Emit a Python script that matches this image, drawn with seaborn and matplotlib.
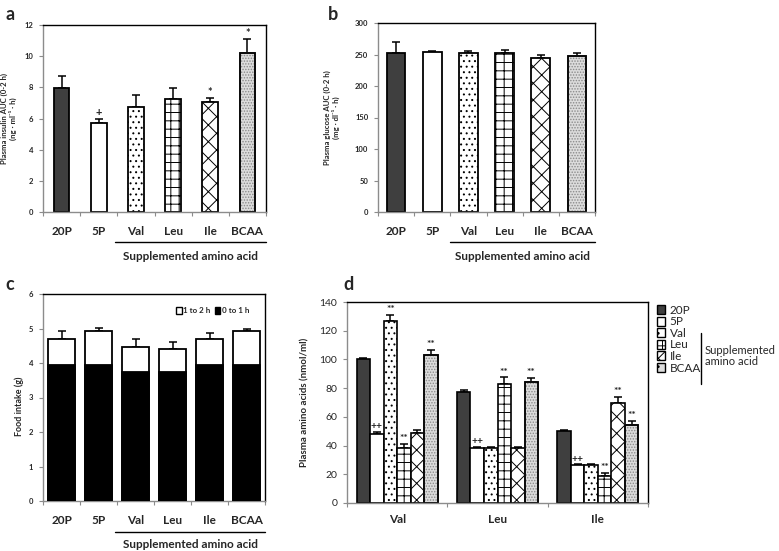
import matplotlib
matplotlib.use("Agg")
import matplotlib.pyplot as plt
import matplotlib.transforms as mtransforms
from matplotlib.lines import Line2D
from matplotlib.patches import Patch, Rectangle
import seaborn as sns
import pandas as pd
import numpy as np

# ---------------- data ----------------
groups = ["20P", "5P", "Val", "Leu", "Ile", "BCAA"]

insulin_mean = [7.97, 5.68, 6.75, 7.24, 7.03, 10.18]
insulin_sem = [0.75, 0.28, 0.79, 0.73, 0.26, 0.90]
insulin_marks = ["", "+", "", "", "*", "*"]

glucose_mean = [252, 254, 252, 253, 245, 248]
glucose_sem = [18, 1, 3, 4, 4, 5]

food_0_1 = [3.93, 3.93, 3.75, 3.75, 3.93, 3.93]
food_total = [4.71, 4.93, 4.47, 4.40, 4.71, 4.93]
food_sem = [0.22, 0.08, 0.24, 0.22, 0.17, 0.07]

aa_names = ["Val", "Leu", "Ile"]
aa_20P = [100, 77, 50]
aa_5P = [48, 38.5, 26.4]
aa_Val = [127, 38.5, 26.4]
aa_Leu = [38, 83, 19]
aa_Ile = [49, 38.5, 70]
aa_BCAA = [103, 84, 54.5]
aa_sem_20P = [1, 1.7, 0.7]
aa_sem_5P = [1.5, 0.6, 0.5]
aa_sem_Val = [4, 0.6, 0.6]
aa_sem_Leu = [3, 4.5, 2]
aa_sem_Ile = [2, 0.6, 4]
aa_sem_BCAA = [3.5, 3, 2.5]
aa_marks_20P = ["", "", ""]
aa_marks_5P = ["++", "++", "++"]
aa_marks_Val = ["**", "", ""]
aa_marks_Leu = ["**", "**", "**"]
aa_marks_Ile = ["", "", "**"]
aa_marks_BCAA = ["**", "**", "**"]

# ---------------- style ----------------
sns.set_theme(style="white")
plt.rcParams["font.family"] = ["Lato", "DejaVu Sans"]
plt.rcParams["hatch.linewidth"] = 0.7

fills = {"20P": "#3f3f3f", "5P": "white", "Val": "white", "Leu": "white",
         "Ile": "white", "BCAA": "#dcdcdc"}
hatches = {"20P": "", "5P": "", "Val": "...", "Leu": "++", "Ile": "xx", "BCAA": "......"}

W, H = 779, 551
fig = plt.figure(figsize=(W / 100, H / 100), dpi=100)


def add_ax(x0, y0, x1, y1):
    return fig.add_axes([x0 / W, 1 - y1 / H, (x1 - x0) / W, (y1 - y0) / H])


def style_patch(ax, p, name):
    p.set_facecolor(fills[name])
    p.set_linewidth(1.3)
    if name == "BCAA":
        p.set_edgecolor("#8a8a8a")
        p.set_hatch(hatches[name])
        ax.add_patch(Rectangle((p.get_x(), p.get_y()), p.get_width(), p.get_height(),
                               fill=False, edgecolor="black", linewidth=1.3,
                               zorder=p.get_zorder() + 0.1))
    else:
        p.set_edgecolor("black")
        p.set_hatch(hatches[name])


def frame(ax, ytick_size=5.5, ybold=True):
    for s in ["top", "right"]:
        ax.spines[s].set_visible(True)
        ax.spines[s].set_color("black")
        ax.spines[s].set_linewidth(1.0)
    for s in ["left", "bottom"]:
        ax.spines[s].set_color("#8c8c8c")
        ax.spines[s].set_linewidth(1.0)
    ax.tick_params(axis="y", direction="out", length=3, width=0.8, color="#8c8c8c",
                   labelsize=ytick_size, pad=4, left=True)
    for t in ax.get_yticklabels():
        t.set_fontweight("bold" if ybold else "normal")
    ax.tick_params(axis="x", which="major", length=0, labelsize=8.5, pad=10)
    ax.tick_params(axis="x", which="minor", direction="out", length=3, width=0.8,
                   color="#8c8c8c", bottom=True)
    for t in ax.get_xticklabels():
        t.set_fontweight("bold")
    n = len(ax.get_xticks())
    ax.set_xticks(np.arange(n + 1) - 0.5, minor=True)
    ax.set_xlim(-0.5, n - 0.5)
    ax.set_xlabel("")


def upper_err(ax, patches, errs):
    xs = [p.get_x() + p.get_width() / 2 for p in patches]
    ys = [p.get_y() + p.get_height() for p in patches]
    ax.errorbar(xs, ys, yerr=[np.zeros(len(errs)), errs], fmt="none", ecolor="black",
                elinewidth=1.1, capsize=2.8, capthick=1.1, zorder=1)
    return xs, ys


def marks(ax, xs, tops, labels, dy, size=8):
    for x, t, lab in zip(xs, tops, labels):
        if lab:
            ax.text(x, t + dy, lab, ha="center", va="bottom", fontsize=size,
                    fontweight="bold")


def supplemented(ax, x0, line_px=30, text_px=44):
    base = mtransforms.blended_transform_factory(ax.transData, ax.transAxes)
    tr_line = base + mtransforms.ScaledTranslation(0, -line_px / 100, fig.dpi_scale_trans)
    tr_text = base + mtransforms.ScaledTranslation(0, -text_px / 100, fig.dpi_scale_trans)
    ax.add_line(Line2D([x0, 5.5], [0, 0], transform=tr_line, color="black",
                       linewidth=1.0, clip_on=False))
    ax.text((x0 + 5.5) / 2, 0, "Supplemented amino acid", transform=tr_text,
            ha="center", va="center", fontsize=8.5, fontweight="bold")


# ---------------- panel a ----------------
ax = add_ax(43, 25, 266, 212)
df_a = pd.DataFrame({"group": groups, "value": insulin_mean})
sns.barplot(data=df_a, x="group", y="value", color="white", width=0.42, ax=ax,
            errorbar=None, zorder=2)
for p, g in zip(ax.patches, groups):
    style_patch(ax, p, g)
xs, ys = upper_err(ax, list(ax.patches)[:6], insulin_sem)
marks(ax, xs, [y + e for y, e in zip(ys, insulin_sem)], insulin_marks, 0.05)
ax.set_ylim(0, 12)
ax.set_yticks(range(0, 13, 2))
ax.set_ylabel("Plasma insulin AUC (0-2 h)\n(ng · ml⁻¹ · h)", fontsize=5.6,
              fontweight="bold", linespacing=1.15)
ax.yaxis.set_label_coords(-0.115, 0.5)
frame(ax)
supplemented(ax, 1.45)
fig.text(5 / W, 1 - 14 / H, "a", fontsize=13, fontweight="bold", va="center")

# ---------------- panel b ----------------
ax = add_ax(378, 23, 595, 212)
df_b = pd.DataFrame({"group": groups, "value": glucose_mean})
sns.barplot(data=df_b, x="group", y="value", color="white", width=0.52, ax=ax,
            errorbar=None, zorder=2)
for p, g in zip(ax.patches, groups):
    style_patch(ax, p, g)
upper_err(ax, list(ax.patches)[:6], glucose_sem)
ax.set_ylim(0, 300)
ax.set_yticks(range(0, 301, 50))
ax.set_ylabel("Plasma glucose AUC (0-2 h)\n(mg · dl⁻¹ · h)", fontsize=5.6,
              fontweight="bold", linespacing=1.15)
ax.yaxis.set_label_coords(-0.175, 0.5)
frame(ax)
supplemented(ax, 1.48)
fig.text(328 / W, 1 - 14 / H, "b", fontsize=13, fontweight="bold", va="center")

# ---------------- panel c ----------------
ax = add_ax(43, 294, 265, 501)
df_c = pd.DataFrame({"group": groups, "total": food_total, "first": food_0_1})
sns.barplot(data=df_c, x="group", y="total", color="white", width=0.72, ax=ax,
            errorbar=None, zorder=2)
top_patches = list(ax.patches)
for p in top_patches:
    p.set_facecolor("white")
    p.set_edgecolor("black")
    p.set_linewidth(1.3)
upper_err(ax, top_patches, food_sem)
sns.barplot(data=df_c, x="group", y="first", color="black", width=0.72, ax=ax,
            errorbar=None, zorder=3)
for p in list(ax.patches)[len(top_patches):]:
    p.set_facecolor("black")
    p.set_edgecolor("black")
    p.set_linewidth(1.3)
ax.set_ylim(0, 6)
ax.set_yticks(range(0, 7))
ax.set_ylabel("Food intake (g)", fontsize=6.5, fontweight="bold")
ax.yaxis.set_label_coords(-0.086, 0.46)
frame(ax)
supplemented(ax, 1.45, line_px=31, text_px=43)
leg = ax.legend(handles=[Patch(facecolor="white", edgecolor="black", label="1 to 2 h"),
                         Patch(facecolor="black", edgecolor="black", label="0 to 1 h")],
                loc="upper right", bbox_to_anchor=(0.95, 0.96), ncol=2, frameon=False,
                fontsize=5.8, handlelength=0.7, handleheight=0.9, handletextpad=0.15,
                columnspacing=0.5, borderaxespad=0.2)
for t in leg.get_texts():
    t.set_fontweight("bold")
fig.text(5 / W, 1 - 285 / H, "c", fontsize=13, fontweight="bold", va="center")

# ---------------- panel d ----------------
ax = add_ax(347, 302, 648, 503)
series = {"20P": (aa_20P, aa_sem_20P, aa_marks_20P),
          "5P": (aa_5P, aa_sem_5P, aa_marks_5P),
          "Val": (aa_Val, aa_sem_Val, aa_marks_Val),
          "Leu": (aa_Leu, aa_sem_Leu, aa_marks_Leu),
          "Ile": (aa_Ile, aa_sem_Ile, aa_marks_Ile),
          "BCAA": (aa_BCAA, aa_sem_BCAA, aa_marks_BCAA)}
rows = []
for g, (vals, _, _) in series.items():
    for a, v in zip(aa_names, vals):
        rows.append({"aa": a, "diet": g, "value": v})
df_d = pd.DataFrame(rows)
sns.barplot(data=df_d, x="aa", y="value", hue="diet", hue_order=groups, order=aa_names,
            palette=["white"] * 6, width=0.81, gap=0, ax=ax, errorbar=None, zorder=2,
            legend=False)
containers = list(ax.containers)
for g, cont in zip(groups, containers):
    bars = list(cont)
    for p in bars:
        style_patch(ax, p, g)
        p.set_linewidth(1.2)
    vals, sems, mk = series[g]
    xs, ys = upper_err(ax, bars, sems)
    marks(ax, xs, [y + e for y, e in zip(ys, sems)], mk, 0.5, size=7.5)
ax.set_ylim(0, 140)
ax.set_yticks(range(0, 141, 20))
ax.set_ylabel("Plasma amino acids (nmol/ml)", fontsize=7, fontweight="bold")
ax.yaxis.set_label_coords(-0.123, 0.5)
frame(ax, ytick_size=7.5, ybold=False)
ax.tick_params(axis="x", which="major", pad=8, labelsize=8.5)
handles = [Patch(facecolor=fills[g], edgecolor="black", hatch=hatches[g][:2], label=g)
           for g in groups]
leg = fig.legend(handles=handles, loc="upper left", bbox_to_anchor=(652 / W, 1 - 300 / H),
                 frameon=False, fontsize=8.5, handlelength=0.7, handleheight=0.8,
                 handletextpad=0.4, labelspacing=0.05, borderaxespad=0)
fig.add_artist(Line2D([701 / W, 701 / W], [1 - 333 / H, 1 - 384 / H], color="black",
                      linewidth=1.0))
fig.text(705 / W, 1 - 356 / H, "Supplemented\namino acid", fontsize=8, va="center",
         ha="left", linespacing=1.1)
fig.text(343 / W, 1 - 285 / H, "d", fontsize=13, fontweight="bold", va="center")

fig.savefig("out.png", dpi=100)
